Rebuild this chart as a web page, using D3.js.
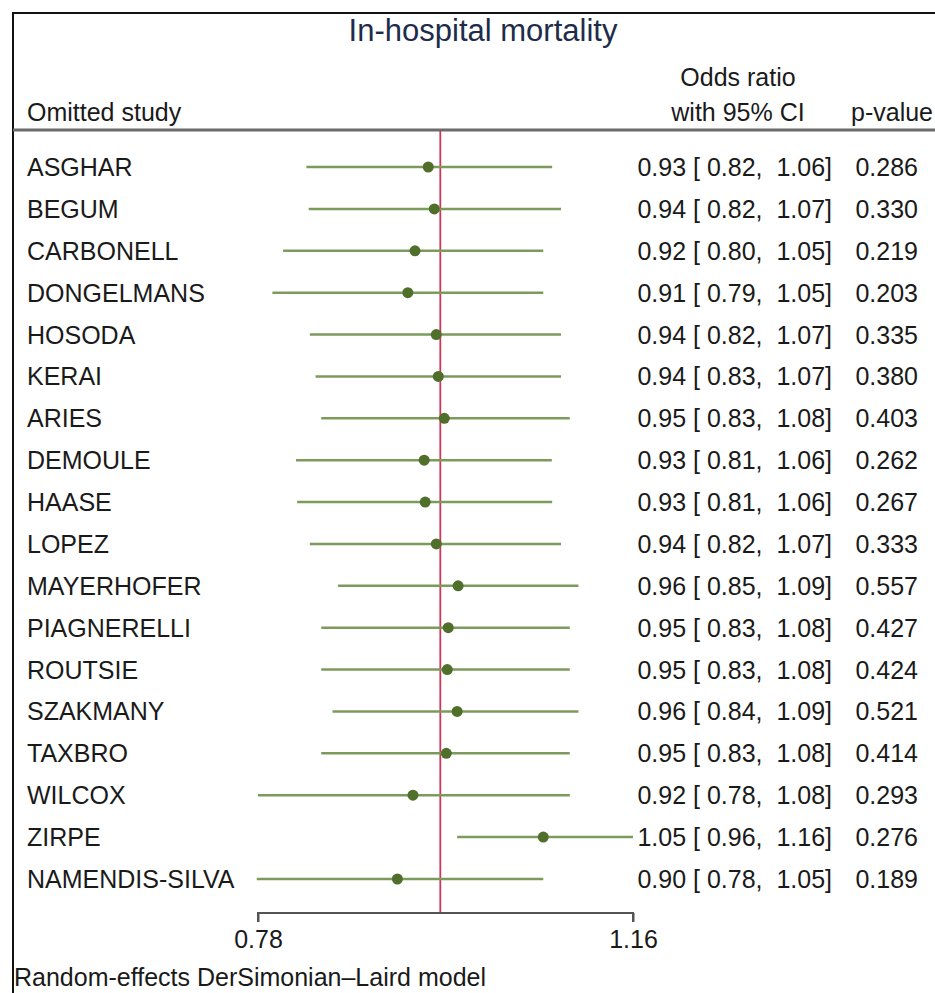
<!DOCTYPE html>
<html>
<head>
<meta charset="utf-8">
<script src="https://cdn.jsdelivr.net/npm/d3@7"></script>
<style>
  body { margin: 0; background: #fff; }
  svg text { font-family: "Liberation Sans", Arial, sans-serif; white-space: pre; }
</style>
</head>
<body>
<svg id="chart" width="935" height="993"></svg>
<script>
// leave-one-out results
var studies = ["ASGHAR","BEGUM","CARBONELL","DONGELMANS","HOSODA","KERAI","ARIES","DEMOULE",
  "HAASE","LOPEZ","MAYERHOFER","PIAGNERELLI","ROUTSIE","SZAKMANY","TAXBRO","WILCOX","ZIRPE","NAMENDIS-SILVA"];
var est  = [0.934,0.940,0.921,0.914,0.942,0.944,0.950,0.930,0.931,0.942,0.964,0.954,0.953,0.963,0.952,0.919,1.0549,0.904];
var lo   = [0.821,0.823,0.801,0.792,0.824,0.829,0.834,0.812,0.813,0.824,0.849,0.834,0.834,0.844,0.834,0.780,0.963,0.779];
var hi   = [1.0649,1.0749,1.0549,1.0549,1.0749,1.0749,1.0849,1.0645,1.0649,1.0749,1.0949,1.0849,1.0849,1.0949,1.0849,1.0849,1.160,1.0549];
var pval = ["0.286","0.330","0.219","0.203","0.335","0.380","0.403","0.262","0.267","0.333",
  "0.557","0.427","0.424","0.521","0.414","0.293","0.276","0.189"];
var overall = 0.946;
var xTicks = [0.78, 1.16];

var svg = d3.select("#chart");
var f2 = d3.format(".2f");
var fs = 25;

// log scale for odds ratios
var x = d3.scaleLog().domain([0.78, 1.16]).range([258, 633]);
var y = d3.scalePoint().domain(studies).range([167, 879]);

// frame (only top and left visible)
svg.append("path")
  .attr("d", "M935,13 H13 V993")
  .attr("fill", "none").attr("stroke", "#111").attr("stroke-width", 2);

svg.append("text")
  .attr("x", 483).attr("y", 41)
  .attr("text-anchor", "middle")
  .attr("font-size", 31).attr("fill", "#1e2c4c")
  .text("In-hospital mortality");

var hdr = svg.append("g").attr("font-size", fs).attr("fill", "#1a1a1a");
hdr.append("text").attr("x", 27).attr("y", 121).text("Omitted study");
hdr.append("text").attr("x", 738).attr("y", 86).attr("text-anchor", "middle").text("Odds ratio");
hdr.append("text").attr("x", 738).attr("y", 121).attr("text-anchor", "middle").text("with 95% CI");
hdr.append("text").attr("x", 851).attr("y", 121).text("p-value");

svg.append("line")
  .attr("x1", 13).attr("x2", 935).attr("y1", 130).attr("y2", 130)
  .attr("stroke", "#6b6b6b").attr("stroke-width", 3);

// overall effect line
svg.append("line")
  .attr("x1", x(overall)).attr("x2", x(overall))
  .attr("y1", 131).attr("y2", 913)
  .attr("stroke", "#c9375c").attr("stroke-width", 1.8);

var rows = svg.append("g").selectAll("g")
  .data(studies)
  .join("g")
  .attr("transform", function(d) { return "translate(0," + y(d) + ")"; });

rows.append("line")
  .attr("x1", function(d, i) { return x(lo[i]); })
  .attr("x2", function(d, i) { return x(hi[i]); })
  .attr("stroke", "#7c9a5c").attr("stroke-width", 2.5);

rows.append("circle")
  .attr("cx", function(d, i) { return x(est[i]); })
  .attr("r", 5.5)
  .attr("fill", "#4f6f2b");

rows.append("text")
  .attr("x", 27).attr("y", 9)
  .attr("font-size", fs).attr("fill", "#1a1a1a")
  .text(function(d) { return d; });

rows.append("text")
  .attr("x", 832).attr("y", 9)
  .attr("text-anchor", "end")
  .attr("font-size", fs).attr("fill", "#1a1a1a")
  .text(function(d, i) { return f2(est[i]) + " [ " + f2(lo[i]) + ",  " + f2(hi[i]) + "]"; });

rows.append("text")
  .attr("x", 918).attr("y", 9)
  .attr("text-anchor", "end")
  .attr("font-size", fs).attr("fill", "#1a1a1a")
  .text(function(d, i) { return pval[i]; });

// x axis: bracket with ticks pointing down
var axis = d3.axisBottom(x).tickValues(xTicks).tickFormat(f2).tickSize(9).tickPadding(8);
var ax = svg.append("g").attr("transform", "translate(0,913)").call(axis);
ax.select(".domain").attr("d", "M258,9V0H633V9").attr("stroke", "#555").attr("stroke-width", 2);
ax.selectAll(".tick line").attr("stroke", "#555").attr("stroke-width", 2);
ax.selectAll(".tick text")
  .attr("font-family", "Liberation Sans, Arial, sans-serif")
  .attr("font-size", fs).attr("fill", "#1a1a1a");

svg.append("text")
  .attr("x", 14).attr("y", 986)
  .attr("font-size", fs).attr("fill", "#1a1a1a")
  .text("Random-effects DerSimonian\u2013Laird model");
</script>
</body>
</html>
